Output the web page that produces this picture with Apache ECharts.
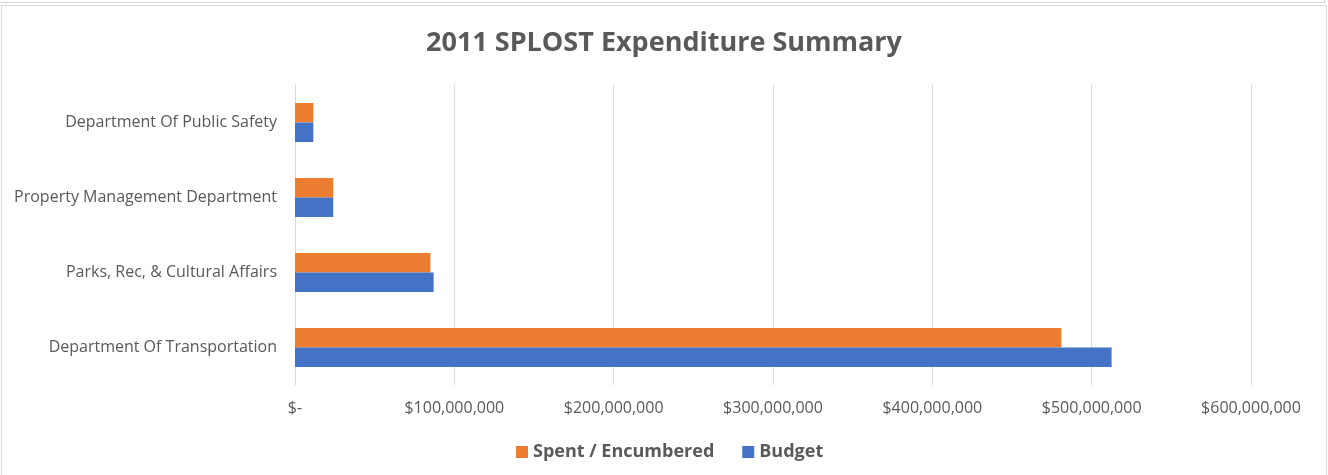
<!DOCTYPE html>
<html>
<head>
<meta charset="utf-8">
<title>2011 SPLOST Expenditure Summary</title>
<script src="https://cdn.jsdelivr.net/npm/echarts@6/dist/echarts.min.js"></script>
<style>
  html, body {
    margin: 0;
    padding: 0;
    background: #fff;
  }
  .strip {
    position: absolute;
    left: 0;
    top: 0;
    width: 1324px;
    height: 2px;
    border-bottom: 1px solid #d4d4d4;
    border-right: 1px solid #d4d4d4;
  }
  .chart-wrap {
    position: absolute;
    left: 1px;
    top: 5px;
    width: 1324px;
    height: 472px;
    border: 1px solid #d9d9d9;
  }
  #chart {
    position: absolute;
    left: -2px;
    top: -6px;
    width: 1328px;
    height: 475px;
  }
</style>
</head>
<body>
<div class="strip"></div>
<div class="chart-wrap"><div id="chart"></div></div>
<script>
  // categories, bottom to top as the y axis draws them
  const departments = [
    'Department Of Transportation',
    'Parks, Rec, & Cultural Affairs',
    'Property Management Department',
    'Department Of Public Safety'
  ]
  const spent = [481000000, 85000000, 24000000, 11500000]
  const budget = [512500000, 87000000, 24000000, 11500000]
  const xTicks = [0, 100000000, 200000000, 300000000, 400000000, 500000000, 600000000]

  const labelColor = '#595959'
  const gridColor = '#d9d9d9'
  const fontFamily = '"Open Sans", "DejaVu Sans", sans-serif'

  function money (v) {
    if (v === 0) return '$-'
    return '$' + v.toString().replace(/\B(?=(\d{3})+(?!\d))/g, ',')
  }

  const chart = echarts.init(document.getElementById('chart'))
  const option = {
    animation: false,
    textStyle: { fontFamily: fontFamily },
    title: {
      text: '2011 SPLOST Expenditure Summary',
      left: 'center',
      top: 25,
      textStyle: {
        fontFamily: fontFamily,
        fontSize: 27,
        fontWeight: 'bold',
        color: labelColor
      }
    },
    legend: {
      data: ['Spent / Encumbered', 'Budget'],
      bottom: 9,
      left: 511,
      icon: 'rect',
      itemWidth: 12,
      itemHeight: 12,
      itemGap: 28,
      textStyle: {
        fontFamily: fontFamily,
        fontSize: 18,
        fontWeight: 'bold',
        color: labelColor
      }
    },
    grid: {
      left: 295,
      right: 77,
      top: 85,
      bottom: 90,
      containLabel: false
    },
    xAxis: {
      type: 'value',
      min: xTicks[0],
      max: xTicks[xTicks.length - 1],
      interval: xTicks[1] - xTicks[0],
      axisLine: { show: false },
      axisTick: { show: false },
      splitLine: { lineStyle: { color: gridColor, width: 1 } },
      axisLabel: {
        formatter: money,
        color: labelColor,
        fontSize: 16,
        margin: 15
      }
    },
    yAxis: {
      type: 'category',
      data: departments,
      axisLine: { lineStyle: { color: gridColor, width: 1 } },
      axisTick: { show: false },
      axisLabel: {
        color: labelColor,
        fontSize: 16,
        margin: 18
      }
    },
    series: [
      {
        name: 'Spent / Encumbered',
        type: 'bar',
        data: spent,
        barWidth: 19.5,
        barGap: '0%',
        itemStyle: { color: '#ED7D31' }
      },
      {
        name: 'Budget',
        type: 'bar',
        data: budget,
        barWidth: 19.5,
        barGap: '0%',
        itemStyle: { color: '#4472C4' }
      }
    ]
  }
  chart.setOption(option)
</script>
</body>
</html>
